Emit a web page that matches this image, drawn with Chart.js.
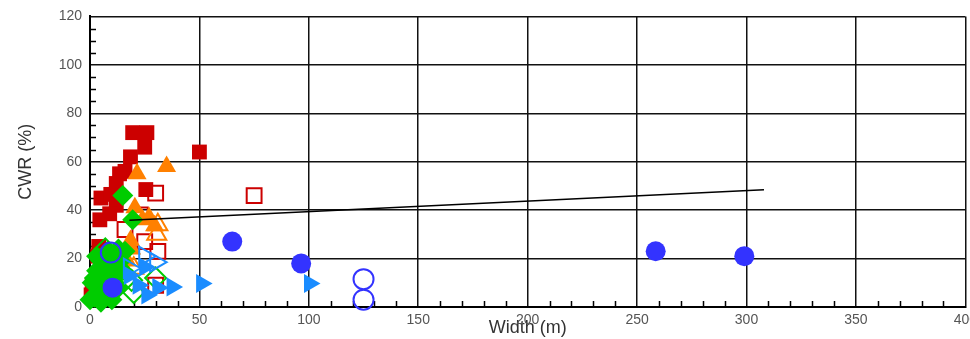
<!DOCTYPE html>
<html><head><meta charset="utf-8">
<script src="https://cdn.jsdelivr.net/npm/chart.js@4.4.1/dist/chart.umd.min.js"></script>
<style>html,body{margin:0;padding:0;background:#fff;overflow:hidden}#wrap{width:970px;height:339px;position:relative;overflow:hidden}</style>
</head><body><div id="wrap"><canvas id="c" width="982" height="339"></canvas></div>
<script>
// ---- data ----
const redFilledSquares = [[19.5,72],[26,72],[25,66],[18.5,62],[16,56],[13.5,55],[12,51],[5,45],[9.5,46.5],[12,42],[25.5,48.5],[4.5,36],[9,38.5],[4,25],[3.5,21],[1,9],[0.5,5],[50,64]];
const redOpenSquares = [[30,47],[75,46],[23,38],[16,32],[25,27],[31,23],[30,9]];
const orangeFilledTriangles = [[35,58],[21.5,55],[20.5,41],[24,36],[27,37],[29.5,33.5],[19,24],[18.5,27.5],[17,19]];
const orangeOpenTriangles = [[30.5,30],[31,34],[20,16]];
const greenFilledDiamonds = [[15,46],[19.5,36],[16,23],[13,24],[14,19],[11,21],[8,18],[5,19],[3,15],[6,13],[9,11],[12,13],[4,8],[7,6],[2,4],[13,8],[5,2],[1,10],[10,3],[15,15],[3,21],[8,23],[0,3],[2,12],[11,16]];
const greenOpenDiamonds = [[30,12],[20,6],[15,14],[19,11],[7,24]];
const blueFilledCircles = [[65,27],[96.5,18],[258.5,23],[299,21],[10.3,8]];
const blueOpenCircles = [[125,11.5],[125,3],[9.5,22.5]];
const lightBlueFilledTriangles = [[51,9.7],[100.3,9.7],[37.5,8.3],[31,8],[26,5],[25,16.5],[18,13],[22,9]];
const lightBlueOpenTriangles = [[30,18.5],[18,16],[25,21]];
const trendX = [18, 308];
const trendY = [35.8, 48.4];
const xTitle = 'Width (m)';
const yTitle = 'CWR (%)';

// ---- helpers ----
const pts = arr => arr.map(p => ({x: p[0], y: p[1]}));
const FONT = "'Liberation Sans', Arial, sans-serif";
const RED = '#cc0000', ORANGE = '#ff8000', GREEN = '#00cc00', BLUE = '#3333ff', LBLUE = '#1a8cff';
const RADIUS = {rect: 10.5, triangle: 11, rectRot: 10.5, circle: 10};

function ds(data, style, color, filled, rotation) {
  return {
    type: 'scatter', data: pts(data), pointStyle: style,
    rotation: rotation || 0,
    pointRadius: RADIUS[style],
    pointHoverRadius: RADIUS[style],
    backgroundColor: filled ? color : 'rgba(0,0,0,0)',
    borderColor: color, borderWidth: filled ? 0 : 2,
    clip: false
  };
}

const minorTicks = {
  id: 'minorTicks',
  beforeDatasetsDraw(chart) {
    const {ctx, chartArea, scales} = chart;
    const xs = scales.x, ys = scales.y;
    ctx.save();
    ctx.strokeStyle = '#000';
    ctx.lineWidth = 1.5;
    ctx.beginPath();
    for (let v = xs.min; v <= xs.max; v += 10) {
      if (v % 50 === 0) continue;
      const px = Math.round(xs.getPixelForValue(v)) + 0.5;
      ctx.moveTo(px, chartArea.bottom);
      ctx.lineTo(px, chartArea.bottom - 6);
    }
    for (let v = ys.min; v <= ys.max; v += 5) {
      if (v % 20 === 0) continue;
      const py = Math.round(ys.getPixelForValue(v)) + 0.5;
      ctx.moveTo(chartArea.left, py);
      ctx.lineTo(chartArea.left + 6, py);
    }
    ctx.stroke();
    ctx.restore();
  }
};

const datasets = [
  {type: 'line', data: trendX.map((x, i) => ({x, y: trendY[i]})), borderColor: '#000', borderWidth: 1.5, pointRadius: 0, fill: false, clip: false},
  ds(lightBlueOpenTriangles, 'triangle', LBLUE, false, 90),
  ds(lightBlueFilledTriangles, 'triangle', LBLUE, true, 90),
  ds(blueOpenCircles, 'circle', BLUE, false),
  ds(blueFilledCircles, 'circle', BLUE, true),
  ds(greenOpenDiamonds, 'rectRot', GREEN, false),
  ds(greenFilledDiamonds, 'rectRot', GREEN, true),
  ds(orangeOpenTriangles, 'triangle', ORANGE, false),
  ds(orangeFilledTriangles, 'triangle', ORANGE, true),
  ds(redOpenSquares, 'rect', RED, false),
  ds(redFilledSquares, 'rect', RED, true)
];

new Chart(document.getElementById('c'), {
  type: 'scatter',
  data: {datasets},
  plugins: [minorTicks],
  options: {
    responsive: false, animation: false,
    layout: {padding: {top: 15, right: 5, left: 0, bottom: 0}},
    plugins: {legend: {display: false}, tooltip: {enabled: false}},
    scales: {
      x: {
        type: 'linear', min: 0, max: 400,
        ticks: {stepSize: 50, color: '#555', padding: 5, font: {family: FONT, size: 14}},
        grid: {color: '#111', lineWidth: 1.5, drawTicks: false},
        border: {color: '#000', width: 2},
        title: {display: true, text: xTitle, color: '#333', font: {family: FONT, size: 18}, padding: {top: 0, bottom: 0}},
        afterFit(s) { s.height = 32; }
      },
      y: {
        type: 'linear', min: 0, max: 120,
        ticks: {stepSize: 20, color: '#555', padding: 8, font: {family: FONT, size: 14}},
        grid: {color: '#111', lineWidth: 1.5, drawTicks: false},
        border: {color: '#000', width: 2},
        title: {display: true, text: yTitle, color: '#333', font: {family: FONT, size: 18}, padding: {top: 15, bottom: 0}},
        afterFit(s) { s.width = 90; }
      }
    }
  }
});
</script>
</body></html>
